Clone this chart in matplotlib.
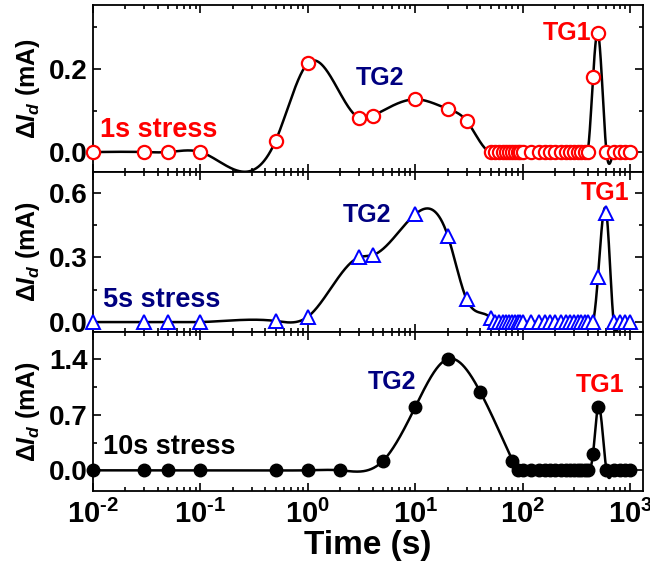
import numpy as np
import matplotlib
matplotlib.use("Agg")
import matplotlib.pyplot as plt
from matplotlib.ticker import LogLocator, FuncFormatter, MultipleLocator, NullFormatter, FormatStrFormatter

plt.rcParams['font.family'] = ['Liberation Sans', 'DejaVu Sans']
plt.rcParams['font.weight'] = 'bold'
plt.rcParams['mathtext.fontset'] = 'custom'
plt.rcParams['mathtext.rm'] = 'Liberation Sans:bold'
plt.rcParams['mathtext.it'] = 'Liberation Sans:bold:italic'
plt.rcParams['mathtext.bf'] = 'Liberation Sans:bold'
plt.rcParams['axes.unicode_minus'] = False

# ---------------- data ----------------
dense_1s = [50, 55, 60, 65, 70, 75, 80, 85, 90, 95, 100, 120, 140, 160, 180, 200,
            225, 250, 275, 300, 325, 350, 375, 400]
t_1s = [0.01, 0.03, 0.05, 0.1, 0.5, 1, 3, 4, 10, 20, 30] + dense_1s + [450, 500, 600, 700, 800, 900, 1000]
y_1s = [0, 0, 0, 0, 0.027, 0.214, 0.082, 0.087, 0.127, 0.104, 0.075] + [0] * len(dense_1s) + \
       [0.18, 0.287, 0, 0, 0, 0, 0]

dense_5s = [55, 60, 65, 70, 75, 80, 85, 90, 95, 100, 120, 140, 160, 180, 200,
            225, 250, 275, 300, 325, 350, 375, 400, 450]
t_5s = [0.01, 0.03, 0.05, 0.1, 0.5, 1, 3, 4, 10, 20, 30, 50] + dense_5s + [500, 600, 700, 800, 900, 1000]
y_5s = [0, 0, 0, 0, 0.005, 0.025, 0.30, 0.31, 0.50, 0.40, 0.105, 0.02] + [0] * len(dense_5s) + \
       [0.21, 0.505, 0, 0, 0, 0]

dense_10s = [90, 100, 120, 140, 160, 180, 200, 225, 250, 275, 300, 325, 350, 375, 400]
t_10s = [0.01, 0.03, 0.05, 0.1, 0.5, 1, 2, 5, 10, 20, 40, 80] + dense_10s + [450, 500, 600, 700, 800, 900, 1000]
y_10s = [0, 0, 0, 0, 0, 0, 0, 0.12, 0.80, 1.40, 0.99, 0.12] + [0] * len(dense_10s) + \
        [0.21, 0.80, 0, 0, 0, 0, 0]

yticks_top = [0.0, 0.2]
yticks_mid = [0.0, 0.3, 0.6]
yticks_bot = [0.0, 0.7, 1.4]


def natural_spline(x, y, xs):
    x = np.asarray(x, float)
    y = np.asarray(y, float)
    n = len(x)
    h = np.diff(x)
    A = np.zeros((n, n))
    b = np.zeros(n)
    A[0, 0] = 1
    A[-1, -1] = 1
    for i in range(1, n - 1):
        A[i, i - 1] = h[i - 1]
        A[i, i] = 2 * (h[i - 1] + h[i])
        A[i, i + 1] = h[i]
        b[i] = 6 * ((y[i + 1] - y[i]) / h[i] - (y[i] - y[i - 1]) / h[i - 1])
    M = np.linalg.solve(A, b)
    idx = np.clip(np.searchsorted(x, xs) - 1, 0, n - 2)
    x0, x1 = x[idx], x[idx + 1]
    hh = x1 - x0
    a = (x1 - xs) / hh
    bb = (xs - x0) / hh
    return (a * y[idx] + bb * y[idx + 1] +
            ((a ** 3 - a) * M[idx] + (bb ** 3 - bb) * M[idx + 1]) * hh ** 2 / 6)


def log_fmt(v, pos):
    e = int(round(np.log10(v)))
    return r'$\mathregular{10^{%s}}$' % (r'\text{-}%d' % -e if e < 0 else '%d' % e)


fig = plt.figure(figsize=(6.5, 5.65), dpi=100)
W, H = 650, 565
left, right = 93 / W, 643 / W
rows = [(5, 172), (172, 332), (332, 491)]
axes = []
for (t, b) in rows:
    axes.append(fig.add_axes([left, 1 - b / H, right - left, (b - t) / H]))

series = [
    (t_1s, y_1s, dict(marker='o', mfc='white', mec='#ff0000', ms=9.5, mew=1.6), (-0.048, 0.354), yticks_top, 0.1),
    (t_5s, y_5s, dict(marker='^', mfc='white', mec='#0000ff', ms=10, mew=1.4), (-0.046, 0.695), yticks_mid, 0.15),
    (t_10s, y_10s, dict(marker='o', mfc='black', mec='black', ms=9, mew=1), (-0.26, 1.74), yticks_bot, 0.35),
]

for ax, (t, y, mk, ylim, yt, minor) in zip(axes, series):
    lx = np.log10(t)
    xs = np.linspace(lx[0], lx[-1], 3000)
    ys = natural_spline(lx, y, xs)
    ax.plot(10 ** xs, ys, color='black', lw=1.8, zorder=2)
    ax.plot(t, y, linestyle='none', zorder=3, clip_on=False, **mk)
    ax.set_xscale('log')
    ax.set_xlim(0.01, 10 ** 3.118)
    ax.set_ylim(*ylim)
    ax.set_yticks(yt)
    ax.yaxis.set_minor_locator(MultipleLocator(minor))
    ax.yaxis.set_major_formatter(FormatStrFormatter('%.1f'))
    ax.xaxis.set_major_locator(LogLocator(base=10, numticks=10))
    ax.xaxis.set_minor_locator(LogLocator(base=10, subs=np.arange(2, 10), numticks=20))
    ax.xaxis.set_minor_formatter(NullFormatter())
    ax.tick_params(which='both', direction='in', top=True, right=True, width=1.2)
    ax.tick_params(axis='y', labelsize=20)
    ax.tick_params(which='major', length=6, pad=4)
    ax.tick_params(which='minor', length=3)
    for s in ax.spines.values():
        s.set_linewidth(1.3)
    ax.set_ylabel(r'$\Delta\mathit{I}_{\mathit{d}}$ (mA)', fontsize=18, fontweight='bold')
    ax.yaxis.set_label_coords(-0.092, 0.5)

for ax in axes[:2]:
    ax.tick_params(labelbottom=False)
axes[2].xaxis.set_major_formatter(FuncFormatter(log_fmt))
axes[2].tick_params(axis='x', labelsize=21, pad=6)
axes[2].set_xlabel('Time (s)', fontsize=24, fontweight='bold', labelpad=1)

red, navy = '#ff0000', '#000080'
fs_s, fs_t = 19.5, 18
axes[0].text(0.013, 0.25, '1s stress', color=red, fontsize=fs_s, fontweight='bold', transform=axes[0].transAxes, va='center', ha='left')
axes[0].text(0.522, 0.563, 'TG2', color=navy, fontsize=fs_t, fontweight='bold', transform=axes[0].transAxes, va='center', ha='center')
axes[0].text(0.862, 0.832, 'TG1', color=red, fontsize=fs_t, fontweight='bold', transform=axes[0].transAxes, va='center', ha='center')
axes[1].text(0.018, 0.2, '5s stress', color=navy, fontsize=fs_s, fontweight='bold', transform=axes[1].transAxes, va='center', ha='left')
axes[1].text(0.498, 0.731, 'TG2', color=navy, fontsize=fs_t, fontweight='bold', transform=axes[1].transAxes, va='center', ha='center')
axes[1].text(0.931, 0.869, 'TG1', color=red, fontsize=fs_t, fontweight='bold', transform=axes[1].transAxes, va='center', ha='center')
axes[2].text(0.018, 0.277, '10s stress', color='black', fontsize=fs_s, fontweight='bold', transform=axes[2].transAxes, va='center', ha='left')
axes[2].text(0.544, 0.686, 'TG2', color=navy, fontsize=fs_t, fontweight='bold', transform=axes[2].transAxes, va='center', ha='center')
axes[2].text(0.922, 0.667, 'TG1', color=red, fontsize=fs_t, fontweight='bold', transform=axes[2].transAxes, va='center', ha='center')

fig.savefig('out.png', dpi=100)
